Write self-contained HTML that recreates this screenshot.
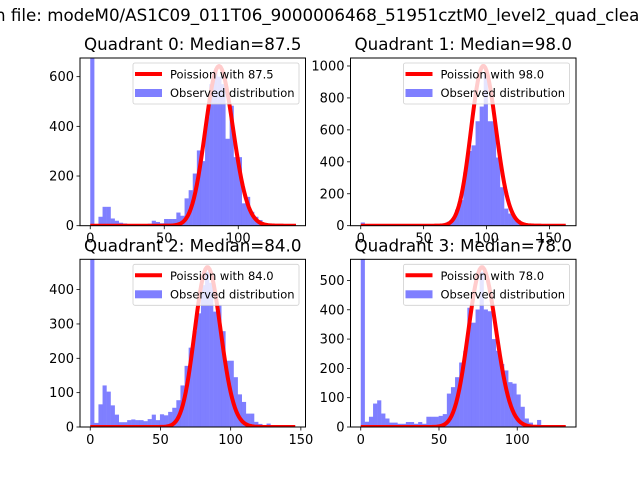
<!DOCTYPE html>
<html><head><meta charset="utf-8">
<style>
html,body{margin:0;padding:0;background:#fff;}
svg{display:block;font-family:"DejaVu Sans","Liberation Sans",sans-serif;}
</style></head>
<body>
<svg id="fig" width="640" height="480" viewBox="0 0 640 480">
<text x="-5" y="21" font-size="16.7" fill="#000">n file: modeM0/AS1C09_011T06_9000006468_51951cztM0_level2_quad_clean.evt</text>
</svg>
<script>
// Quadrant data: 50 histogram bins each
const medians = [87.5, 98.0, 84.0, 78.0];
const binMax = [138.5, 163, 146, 131];
const curvePeak = [643, 1000, 465, 545];
const yTickStep = [200, 200, 100, 100];
const counts0 = [1500,0,36,76,76,29,20,12,9,5,5,5,5,5,8,20,15,10,27,27,27,53,40,110,143,210,303,260,437,570,623,600,570,350,483,276,276,90,116,56,36,23,9,2,2,2,2,2,2,2];
const counts1 = [20,0,0,0,0,0,0,0,0,0,0,0,0,0,0,0,0,0,0,5,15,25,45,100,160,334,468,503,654,746,960,654,654,427,241,107,76,56,35,14,2,2,2,2,2,2,2,2,2,2];
const counts2 = [1200,12,66,121,103,63,36,14,14,20,22,20,20,17,23,36,20,37,34,44,56,78,121,178,231,279,331,413,451,420,336,355,279,193,193,145,95,73,39,39,15,9,6,10,2,2,2,2,2,2];
const counts3 = [1200,18,35,80,91,46,29,15,15,11,11,17,17,11,17,11,35,35,35,38,44,114,136,170,220,260,407,356,401,530,401,395,300,260,215,193,153,148,111,69,29,15,7,24,2,2,2,2,2,2];
const allCounts = [counts0, counts1, counts2, counts3];

const NS = "http://www.w3.org/2000/svg";
const svg = document.getElementById('fig');
function mk(tag, attrs, parent){
  const e = document.createElementNS(NS, tag);
  for (const k in attrs) e.setAttribute(k, attrs[k]);
  (parent||svg).appendChild(e);
  return e;
}
function lgamma(n){ let s=0; for(let i=2;i<=n;i++) s+=Math.log(i); return s; }
function pois(k, lam){ return Math.exp(k*Math.log(lam) - lam - lgamma(k)); }

const boxes = [[80,58],[350.5,58],[80,259.3],[350.5,259.3]];
const W = 225.5, H = 167.7;

for (let q=0;q<4;q++){
  const [L,T] = boxes[q];
  const counts = allCounts[q];
  const n = counts.length;
  const xmaxData = binMax[q];
  const xlo = -0.05*xmaxData, xhi = 1.05*xmaxData;
  const yhi = curvePeak[q]*1.05;
  const X = v => L + (v-xlo)/(xhi-xlo)*W;
  const Y = v => T + H - v/yhi*H;
  const g = mk('g', {});
  
  
  const clipId = 'clip'+q;
  const cp = mk('clipPath', {id: clipId}, g);
  mk('rect', {x:L, y:T, width:W, height:H}, cp);
  const plot = mk('g', {'clip-path':'url(#'+clipId+')'}, g);
  const bw = xmaxData/n;
  for (let i=0;i<n;i++){
    const x0 = X(i*bw), x1 = X((i+1)*bw);
    const r = mk('rect', {x:x0, y:Y(counts[i]), width:x1-x0+0.05, height:Y(0)-Y(counts[i]), fill:'#0000ff', 'fill-opacity':0.5}, plot);
    
    
  }
  const lam = medians[q];
  const mode = Math.floor(lam);
  const pm = pois(mode, lam);
  let d = '';
  for (let k=0;k<=Math.round(xmaxData);k++){
    const v = pois(k, lam)/pm*curvePeak[q];
    d += (k?'L':'M') + X(k).toFixed(2) + ',' + Y(v).toFixed(2);
  }
  const c = mk('path', {d:d, fill:'none', stroke:'#ff0000', 'stroke-width':4, 'stroke-linejoin':'round'}, plot);
  
  
  const fr = mk('rect', {x:L, y:T, width:W, height:H, fill:'none', stroke:'#000', 'stroke-width':1}, g);
  
  
  for (let t=0; t<=xhi; t+=50){
    const px = X(t);
    mk('line', {x1:px, x2:px, y1:T+H, y2:T+H+3.5, stroke:'#000', 'stroke-width':0.8}, g);
    const tl = mk('text', {x:px, y:T+H+17, 'font-size':13, 'text-anchor':'middle'}, g);
    tl.textContent = t;
    
    
  }
  for (let t=0; t<=yhi; t+=yTickStep[q]){
    const py = Y(t);
    mk('line', {x1:L-3.5, x2:L, y1:py, y2:py, stroke:'#000', 'stroke-width':0.8}, g);
    const tl = mk('text', {x:L-6, y:py+4.5, 'font-size':13, 'text-anchor':'end'}, g);
    tl.textContent = t;
    
    
  }
  const tt = mk('text', {x:L+W/2, y:T-8, 'font-size':16.7, 'text-anchor':'middle'}, g);
  tt.textContent = 'Quadrant ' + q + ': Median=' + lam.toFixed(1);
  
  
  const lg = mk('g', {}, g);
  
  
  const lx = L+53, ly = T+5;
  mk('rect', {x:lx, y:ly, width:166, height:41, rx:2, fill:'#fff', 'fill-opacity':0.8, stroke:'#d0d0d0', 'stroke-width':0.8}, lg);
  mk('line', {x1:lx+2, x2:lx+29, y1:ly+11, y2:ly+11, stroke:'#ff0000', 'stroke-width':4}, lg);
  const t1 = mk('text', {x:lx+37, y:ly+15.5, 'font-size':11.5}, lg);
  t1.textContent = 'Poission with ' + lam.toFixed(1);
  
  
  mk('rect', {x:lx+2, y:ly+26, width:27, height:8, fill:'#0000ff', 'fill-opacity':0.5}, lg);
  const t2 = mk('text', {x:lx+37, y:ly+34, 'font-size':11.5}, lg);
  t2.textContent = 'Observed distribution';
  
  
}
</script>
</body></html>
